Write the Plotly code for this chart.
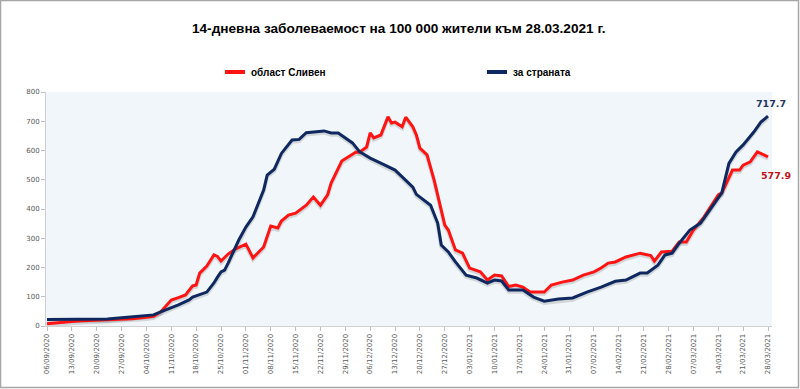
import datetime as dt
import plotly.graph_objects as go

# ---------------- data ----------------
START = dt.date(2020, 9, 6)

sliven_days = [0, 3, 7, 10, 14, 17, 21, 24, 28, 30, 32, 34, 35, 37, 39, 41, 42, 43, 45, 47,
               48, 49, 51, 53, 56, 58, 61, 63, 65, 66, 68, 70, 72, 73, 75, 77, 79, 80, 83, 87,
               88, 90, 91, 92, 94, 96, 97, 98, 100, 101, 103, 104, 105, 107, 109, 111, 112, 113,
               115, 117, 119, 122, 124, 126, 128, 130, 132, 134, 136, 140, 142, 145, 148, 151,
               154, 156, 158, 160, 163, 167, 170, 171, 173, 176, 178, 180, 182, 185, 189, 190,
               193, 195, 196, 198, 200, 202, 203]
sliven_vals = [8, 12, 15, 18, 20, 22, 22, 25, 30, 33, 48, 75, 89, 97, 106, 137, 140, 181, 205, 243,
               238, 222, 246, 263, 280, 233, 270, 342, 335, 359, 379, 386, 403, 413, 441, 413, 448, 489, 564, 595,
               594, 612, 660, 643, 653, 715, 694, 697, 681, 714, 681, 653, 608, 585, 499, 397, 345, 328,
               260, 249, 198, 185, 157, 174, 171, 135, 140, 133, 116, 116, 140, 150, 157, 174,
               185, 198, 215, 219, 236, 249, 241, 222, 253, 256, 287, 287, 328, 373, 448, 455,
               533, 533, 550, 561, 595, 584, 577.9]

country_days = [0, 7, 14, 17, 21, 24, 28, 30, 32, 35, 37, 40, 41, 45, 47, 48, 49, 50, 51, 54,
                56, 58, 61, 62, 64, 66, 69, 71, 73, 78, 80, 82, 84, 86, 88, 91, 95, 98, 100, 103,
                104, 106, 108, 110, 111, 113, 115, 118, 121, 124, 126, 128, 130, 134, 137, 140,
                144, 148, 152, 156, 160, 163, 167, 169, 172, 174, 176, 178, 181, 184, 186, 189,
                190, 192, 194, 196, 199, 201, 203]
country_vals = [22, 22, 22, 24, 28, 32, 36, 38, 48, 62, 72, 89, 99, 116, 147, 167, 185, 191, 215, 294,
                338, 373, 465, 516, 536, 590, 636, 638, 661, 667, 660, 660, 643, 626, 596, 574, 551, 533, 510, 475,
                450, 431, 413, 352, 277, 253, 219, 174, 164, 147, 157, 154, 123, 123, 99, 85,
                92, 96, 116, 133, 153, 157, 181, 181, 208, 243, 249, 283, 328, 352, 386, 441,
                455, 556, 595, 619, 663, 697, 717.7]

sliven_dates = [START + dt.timedelta(days=d) for d in sliven_days]
country_dates = [START + dt.timedelta(days=d) for d in country_days]

TITLE = "14-дневна заболеваемост на 100 000 жители към 28.03.2021 г."
NAME_SLIVEN = "област Сливен"
NAME_COUNTRY = "за страната"

RED = "#ff1414"
NAVY = "#0f2860"

# ---------------- geometry ----------------
W, H = 800, 389
L, R, T, B = 46, 772, 92, 326  # plot area in pixels


def px(x):
    return (x - L) / (R - L)


def py(y):
    return (B - y) / (B - T)


# soft drop shadow (same data, offset slightly down/right like the original's line shadow)
SH_DX = dt.timedelta(hours=12)
SH_DY = 6

fig = go.Figure()
for dates, vals in [(sliven_dates, sliven_vals), (country_dates, country_vals)]:
    fig.add_trace(go.Scatter(x=[d + SH_DX for d in dates], y=[v - SH_DY for v in vals], mode="lines",
                             line=dict(color="rgba(0,0,0,0.13)", width=4), showlegend=False,
                             hoverinfo="skip"))
fig.add_trace(go.Scatter(x=sliven_dates, y=sliven_vals, mode="lines", name=NAME_SLIVEN,
                         line=dict(color=RED, width=3), showlegend=False, hoverinfo="skip"))
fig.add_trace(go.Scatter(x=country_dates, y=country_vals, mode="lines", name=NAME_COUNTRY,
                         line=dict(color=NAVY, width=3), showlegend=False, hoverinfo="skip"))

tickfont = dict(family="DejaVu Sans", size=7, color="#595959")

fig.update_layout(
    width=W, height=H,
    margin=dict(l=L, r=W - R, t=T, b=H - B, pad=0),
    paper_bgcolor="white",
    plot_bgcolor="#f1f6fa",
    xaxis=dict(
        type="date",
        range=["2020-09-05 17:15", "2021-03-29 03:00"],
        tickmode="linear", tick0="2020-09-06", dtick=7 * 86400000,
        tickformat="%d/%m/%Y", tickangle=-90, tickfont=tickfont,
        ticks="outside", ticklen=4, tickcolor="#bfbfbf",
        showgrid=False, showline=True, linecolor="#d0d0d0", linewidth=1, zeroline=False,
    ),
    yaxis=dict(
        range=[0, 800], tickmode="linear", tick0=0, dtick=100,
        tickfont=tickfont, ticks="outside", ticklen=4, tickcolor="#bfbfbf",
        showgrid=False, showline=True, linecolor="#d0d0d0", linewidth=1, zeroline=False,
    ),
    font=dict(family="Liberation Sans, sans-serif"),
)

# outer frame
fig.add_shape(type="rect", xref="paper", yref="paper",
              x0=px(0.5), x1=px(W - 1.5), y0=py(H - 1.5), y1=py(0.5),
              line=dict(color="#a6a6a6", width=1.5), fillcolor="rgba(0,0,0,0)", layer="below")

# title
fig.add_annotation(xref="paper", yref="paper", x=px(398), y=py(28), text="<b>" + TITLE + "</b>",
                   showarrow=False, xanchor="center", yanchor="middle",
                   font=dict(family="Liberation Sans, sans-serif", size=13.6, color="#000000"))

# manual legend
for x0, x1, col, tx, name in [(225, 245, RED, 249, NAME_SLIVEN), (487, 507, NAVY, 511, NAME_COUNTRY)]:
    fig.add_shape(type="line", xref="paper", yref="paper", x0=px(x0), x1=px(x1), y0=py(72), y1=py(72),
                  line=dict(color=col, width=4))
    fig.add_annotation(xref="paper", yref="paper", x=px(tx), y=py(72), text="<b>" + name + "</b>",
                       showarrow=False, xanchor="left", yanchor="middle",
                       font=dict(family="Liberation Sans, sans-serif", size=10, color="#000000"))

# end labels
fig.add_annotation(xref="paper", yref="paper", x=px(771), y=py(103), text="<b>%.1f</b>" % country_vals[-1],
                   showarrow=False, xanchor="center", yanchor="middle",
                   font=dict(family="DejaVu Sans", size=9.5, color="#1f3864"))
fig.add_annotation(xref="paper", yref="paper", x=px(776), y=py(175), text="<b>%.1f</b>" % sliven_vals[-1],
                   showarrow=False, xanchor="center", yanchor="middle",
                   font=dict(family="DejaVu Sans", size=9.5, color="#c0141c"))

fig.write_html("out.html", config={"displayModeBar": False},
               post_script="document.body.style.margin='0';document.body.style.padding='0';document.body.style.overflow='hidden';")
